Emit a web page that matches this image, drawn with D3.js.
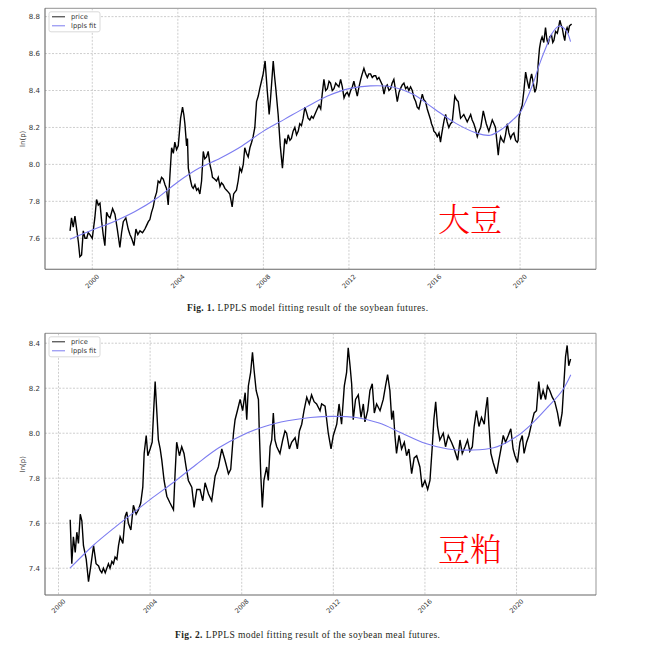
<!DOCTYPE html>
<html><head><meta charset="utf-8">
<script src="https://cdn.jsdelivr.net/npm/d3@7/dist/d3.min.js"></script>
<style>body{margin:0;background:#fff}svg{display:block}</style>
</head><body>
<svg id="c" width="652" height="652"></svg>
<script>
// ---------- DATA ----------
const xTicks = [2000, 2004, 2008, 2012, 2016, 2020];
const soyYTicks = [7.6, 7.8, 8.0, 8.2, 8.4, 8.6, 8.8];
const mealYTicks = [7.4, 7.6, 7.8, 8.0, 8.2, 8.4];
const legendLabels = ["price", "lppls fit"];
const captions = [["Fig. 1.", "LPPLS model fitting result of the soybean futures."],
                  ["Fig. 2.", "LPPLS model fitting result of the soybean meal futures."]];
const panelNames = ["大豆", "豆粕"];

// soybean (大豆) price, ln(p)
const soyT = [1998.96,1999.03,1999.11,1999.19,1999.27,1999.35,1999.42,1999.50,1999.58,1999.66,1999.74,1999.81,1999.89,2000.00,2000.12,2000.20,2000.28,2000.36,2000.44,2000.51,2000.59,2000.67,2000.75,2000.83,2000.95,2001.06,2001.17,2001.23,2001.29,2001.37,2001.45,2001.57,2001.68,2001.76,2001.84,2001.95,2002.04,2002.13,2002.23,2002.35,2002.46,2002.54,2002.62,2002.69,2002.77,2002.85,2002.93,2003.01,2003.08,2003.16,2003.24,2003.32,2003.40,2003.47,2003.55,2003.63,2003.71,2003.79,2003.86,2003.94,2004.02,2004.13,2004.22,2004.28,2004.33,2004.41,2004.45,2004.49,2004.60,2004.66,2004.72,2004.80,2004.88,2004.95,2005.03,2005.11,2005.19,2005.26,2005.34,2005.42,2005.50,2005.58,2005.62,2005.73,2005.81,2005.89,2005.97,2006.04,2006.12,2006.20,2006.28,2006.36,2006.43,2006.54,2006.61,2006.67,2006.74,2006.82,2006.90,2006.98,2007.06,2007.13,2007.21,2007.29,2007.37,2007.45,2007.52,2007.60,2007.68,2007.76,2007.83,2007.91,2007.99,2008.08,2008.13,2008.18,2008.27,2008.33,2008.38,2008.46,2008.52,2008.58,2008.69,2008.79,2008.83,2008.89,2008.96,2009.00,2009.08,2009.16,2009.24,2009.31,2009.39,2009.47,2009.55,2009.63,2009.70,2009.78,2009.86,2009.94,2010.02,2010.09,2010.17,2010.25,2010.33,2010.48,2010.60,2010.68,2010.75,2010.83,2010.91,2010.99,2011.07,2011.14,2011.22,2011.30,2011.38,2011.45,2011.53,2011.61,2011.69,2011.77,2011.84,2011.92,2012.00,2012.08,2012.16,2012.23,2012.31,2012.39,2012.47,2012.55,2012.62,2012.70,2012.78,2012.86,2012.93,2013.01,2013.09,2013.17,2013.25,2013.32,2013.40,2013.48,2013.56,2013.64,2013.71,2013.79,2013.87,2013.95,2014.02,2014.10,2014.18,2014.26,2014.34,2014.41,2014.49,2014.57,2014.65,2014.73,2014.80,2014.88,2014.96,2015.04,2015.12,2015.19,2015.27,2015.35,2015.43,2015.50,2015.58,2015.66,2015.74,2015.82,2015.86,2015.93,2015.97,2016.05,2016.13,2016.21,2016.28,2016.33,2016.39,2016.45,2016.52,2016.59,2016.67,2016.75,2016.83,2016.89,2016.95,2017.03,2017.11,2017.17,2017.22,2017.30,2017.37,2017.45,2017.53,2017.61,2017.69,2017.76,2017.84,2017.92,2018.00,2018.08,2018.16,2018.23,2018.28,2018.34,2018.42,2018.48,2018.54,2018.62,2018.70,2018.78,2018.85,2018.92,2018.98,2019.03,2019.09,2019.17,2019.24,2019.32,2019.40,2019.48,2019.56,2019.63,2019.71,2019.79,2019.87,2019.91,2019.95,2020.02,2020.10,2020.18,2020.26,2020.34,2020.42,2020.48,2020.54,2020.62,2020.69,2020.75,2020.80,2020.85,2020.91,2020.97,2021.03,2021.11,2021.19,2021.25,2021.31,2021.39,2021.47,2021.53,2021.58,2021.66,2021.74,2021.80,2021.86,2021.93,2021.97,2022.03,2022.09,2022.14,2022.20,2022.26,2022.31,2022.41];
const soyP = [7.64,7.71,7.66,7.72,7.65,7.58,7.50,7.51,7.64,7.60,7.60,7.63,7.62,7.60,7.71,7.81,7.78,7.79,7.69,7.62,7.56,7.74,7.72,7.71,7.76,7.73,7.65,7.60,7.55,7.63,7.69,7.71,7.65,7.62,7.60,7.56,7.65,7.62,7.64,7.63,7.65,7.67,7.69,7.70,7.74,7.77,7.82,7.85,7.91,7.90,7.93,7.92,7.89,7.87,7.78,7.94,8.09,8.06,8.12,8.08,8.10,8.25,8.31,8.27,8.22,8.10,8.14,7.98,7.91,7.88,7.87,7.89,7.86,7.87,7.84,7.91,8.07,8.03,8.04,8.07,8.00,7.96,7.93,7.92,7.91,7.93,7.88,7.90,7.89,7.87,7.86,7.85,7.84,7.77,7.84,7.85,7.86,7.91,7.98,7.96,8.00,8.09,8.06,8.04,8.09,8.12,8.15,8.20,8.34,8.37,8.41,8.45,8.49,8.56,8.48,8.40,8.27,8.35,8.43,8.56,8.48,8.41,8.27,8.10,8.05,7.98,8.08,8.14,8.11,8.16,8.13,8.14,8.18,8.20,8.16,8.18,8.22,8.21,8.25,8.31,8.28,8.25,8.24,8.26,8.25,8.29,8.32,8.30,8.38,8.46,8.40,8.41,8.45,8.44,8.40,8.41,8.44,8.43,8.42,8.46,8.42,8.36,8.38,8.39,8.37,8.40,8.42,8.45,8.41,8.37,8.42,8.46,8.49,8.52,8.49,8.47,8.49,8.49,8.47,8.48,8.48,8.46,8.47,8.45,8.43,8.38,8.42,8.43,8.40,8.41,8.44,8.46,8.40,8.34,8.39,8.41,8.43,8.44,8.41,8.42,8.40,8.42,8.40,8.36,8.34,8.31,8.30,8.34,8.38,8.35,8.34,8.30,8.27,8.24,8.22,8.20,8.18,8.17,8.15,8.17,8.12,8.16,8.20,8.24,8.27,8.23,8.20,8.22,8.23,8.30,8.37,8.35,8.34,8.29,8.25,8.26,8.27,8.25,8.23,8.25,8.27,8.24,8.22,8.19,8.15,8.18,8.20,8.25,8.29,8.26,8.22,8.20,8.18,8.21,8.24,8.22,8.20,8.12,8.05,8.11,8.15,8.13,8.12,8.16,8.22,8.17,8.14,8.16,8.17,8.13,8.12,8.13,8.25,8.29,8.32,8.40,8.50,8.45,8.41,8.46,8.49,8.44,8.39,8.41,8.45,8.55,8.63,8.67,8.69,8.66,8.74,8.68,8.65,8.69,8.70,8.66,8.67,8.72,8.71,8.74,8.78,8.75,8.74,8.70,8.67,8.72,8.74,8.72,8.75,8.76];
// soybean LPPLS fit
const soyFitT = [1998.96,2000.0,2001.0,2002.0,2003.0,2004.0,2005.0,2006.0,2007.0,2008.0,2009.0,2010.0,2011.0,2012.0,2013.0,2014.0,2015.0,2016.0,2017.0,2018.0,2018.6,2019.2,2019.7,2020.0,2020.3,2020.6,2020.9,2021.2,2021.5,2021.8,2022.0,2022.2,2022.36];
const soyFit  = [7.595,7.645,7.69,7.745,7.815,7.905,7.98,8.035,8.10,8.18,8.245,8.31,8.37,8.41,8.425,8.42,8.38,8.30,8.222,8.168,8.158,8.195,8.245,8.28,8.35,8.435,8.54,8.63,8.71,8.748,8.742,8.715,8.665];

// soybean meal (豆粕) price, ln(p)
const mealT = [2000.51,2000.55,2000.58,2000.65,2000.73,2000.80,2000.87,2000.95,2001.02,2001.09,2001.21,2001.31,2001.41,2001.53,2001.60,2001.64,2001.75,2001.82,2001.89,2001.96,2002.04,2002.11,2002.18,2002.25,2002.33,2002.40,2002.47,2002.55,2002.62,2002.69,2002.81,2002.91,2002.98,2003.05,2003.16,2003.27,2003.39,2003.49,2003.59,2003.68,2003.74,2003.83,2003.90,2004.00,2004.09,2004.15,2004.22,2004.29,2004.36,2004.44,2004.51,2004.61,2004.73,2004.87,2005.02,2005.09,2005.16,2005.28,2005.38,2005.48,2005.57,2005.67,2005.82,2005.92,2006.04,2006.18,2006.30,2006.40,2006.55,2006.69,2006.84,2006.98,2007.13,2007.27,2007.42,2007.52,2007.64,2007.71,2007.81,2007.93,2008.04,2008.15,2008.22,2008.29,2008.39,2008.47,2008.54,2008.63,2008.73,2008.77,2008.83,2008.90,2008.97,2009.09,2009.16,2009.24,2009.31,2009.38,2009.45,2009.53,2009.67,2009.79,2009.89,2009.96,2010.08,2010.18,2010.33,2010.43,2010.52,2010.62,2010.72,2010.84,2010.95,2011.05,2011.16,2011.27,2011.42,2011.49,2011.64,2011.71,2011.78,2011.90,2012.00,2012.15,2012.25,2012.36,2012.48,2012.58,2012.65,2012.73,2012.80,2012.87,2012.97,2013.09,2013.21,2013.31,2013.38,2013.50,2013.60,2013.70,2013.79,2013.89,2014.04,2014.18,2014.28,2014.37,2014.47,2014.55,2014.62,2014.69,2014.76,2014.87,2014.98,2015.10,2015.20,2015.30,2015.42,2015.53,2015.64,2015.78,2015.88,2016.00,2016.12,2016.22,2016.32,2016.39,2016.47,2016.55,2016.65,2016.80,2016.90,2017.02,2017.16,2017.28,2017.43,2017.53,2017.63,2017.75,2017.86,2017.96,2018.07,2018.15,2018.25,2018.36,2018.47,2018.59,2018.65,2018.73,2018.79,2018.88,2018.98,2019.13,2019.23,2019.32,2019.42,2019.52,2019.64,2019.75,2019.85,2019.93,2020.04,2020.15,2020.25,2020.33,2020.44,2020.54,2020.65,2020.77,2020.87,2020.97,2021.06,2021.16,2021.27,2021.35,2021.45,2021.56,2021.67,2021.79,2021.89,2021.99,2022.08,2022.14,2022.21,2022.28,2022.36];
const mealP = [7.615,7.50,7.42,7.54,7.47,7.56,7.51,7.64,7.61,7.50,7.44,7.34,7.41,7.50,7.45,7.42,7.41,7.39,7.38,7.40,7.38,7.40,7.42,7.40,7.43,7.42,7.45,7.44,7.50,7.54,7.51,7.63,7.65,7.60,7.57,7.68,7.64,7.66,7.69,7.76,7.91,7.99,7.90,7.93,7.96,8.09,8.23,8.10,7.97,7.93,7.88,7.79,7.72,7.69,7.66,7.82,7.96,7.90,7.94,7.91,7.85,7.79,7.76,7.67,7.75,7.75,7.70,7.78,7.73,7.70,7.81,7.85,7.93,7.88,7.82,7.84,8.00,8.06,8.10,8.15,8.10,8.18,8.06,8.21,8.27,8.36,8.28,8.19,8.15,8.00,7.82,7.67,7.79,7.85,7.79,7.94,7.97,8.09,7.97,7.94,7.91,7.97,8.01,8.00,7.93,7.96,7.98,7.93,8.01,8.04,8.10,8.16,8.13,8.17,8.14,8.13,8.10,8.13,8.12,8.06,8.00,7.93,7.99,8.04,8.13,8.04,8.21,8.27,8.38,8.30,8.22,8.06,8.15,8.17,8.07,8.13,8.05,8.10,8.19,8.22,8.09,8.13,8.10,8.15,8.21,8.26,8.19,8.06,8.10,7.99,7.91,7.99,7.93,7.96,7.90,7.93,7.82,7.89,7.90,7.85,7.76,7.79,7.75,7.79,7.94,8.06,8.14,8.03,7.97,8.00,7.94,7.99,7.96,7.93,7.88,7.97,7.91,7.94,7.97,7.92,7.94,8.03,8.10,8.03,8.07,8.04,8.10,8.16,8.04,7.91,7.87,7.82,7.88,7.93,7.99,7.96,7.99,8.02,7.93,7.90,7.87,7.96,7.99,7.91,7.96,7.99,8.04,8.09,8.10,8.23,8.15,8.19,8.15,8.21,8.19,8.16,8.14,8.09,8.03,8.09,8.24,8.34,8.39,8.30,8.33];
// soybean meal LPPLS fit
const mealFitT = [2000.5,2001.5,2002.5,2003.0,2004.0,2005.0,2006.0,2007.0,2008.0,2009.0,2010.0,2011.0,2012.0,2013.0,2014.0,2015.0,2016.0,2017.0,2018.0,2019.0,2020.0,2020.65,2021.4,2022.0,2022.37];
const mealFit  = [7.40,7.50,7.585,7.625,7.705,7.78,7.86,7.935,7.99,8.03,8.055,8.07,8.075,8.07,8.045,8.00,7.955,7.93,7.925,7.935,7.985,8.04,8.12,8.19,8.26];

// ---------- DRAW ----------
const svg = d3.select("#c");
const tickFont = "DejaVu Sans, sans-serif";

function panel(o) {
  const x = d3.scaleLinear().domain(o.xDomain).range([o.left, o.right]);
  const y = d3.scaleLinear().domain(o.yDomain).range([o.bottom, o.top]);
  const g = svg.append("g");
  g.append("rect").attr("x", o.left).attr("y", o.top)
    .attr("width", o.right - o.left).attr("height", o.bottom - o.top).attr("fill", "#fff");
  // grid
  g.selectAll(".gx").data(xTicks).join("line")
    .attr("x1", d => x(d)).attr("x2", d => x(d)).attr("y1", o.top).attr("y2", o.bottom)
    .attr("stroke", "#b8b8b8").attr("stroke-width", 0.7).attr("stroke-dasharray", "2,1.5");
  g.selectAll(".gy").data(o.yTicks).join("line")
    .attr("x1", o.left).attr("x2", o.right).attr("y1", d => y(d)).attr("y2", d => y(d))
    .attr("stroke", "#b8b8b8").attr("stroke-width", 0.7).attr("stroke-dasharray", "2,1.5");
  // lines
  const line = d3.line().x(d => x(d[0])).y(d => y(d[1]));
  g.append("path").datum(o.t.map((t, i) => [t, o.p[i]]))
    .attr("d", line).attr("fill", "none").attr("stroke", "#000").attr("stroke-width", 1.4)
    .attr("stroke-linejoin", "miter");
  g.append("path").datum(o.ft.map((t, i) => [t, o.fv[i]]))
    .attr("d", line.curve(d3.curveCatmullRom)).attr("fill", "none")
    .attr("stroke", "#7c7cf0").attr("stroke-width", 1.1);
  // spines
  g.append("line").attr("x1", o.left).attr("x2", o.right).attr("y1", o.top).attr("y2", o.top)
    .attr("stroke", "#a8a8a8").attr("stroke-width", 1.2);
  g.append("line").attr("x1", o.right).attr("x2", o.right).attr("y1", o.top).attr("y2", o.bottom)
    .attr("stroke", "#a8a8a8").attr("stroke-width", 1.2);
  g.append("line").attr("x1", o.left).attr("x2", o.left).attr("y1", o.top).attr("y2", o.bottom)
    .attr("stroke", "#666").attr("stroke-width", 1.1);
  g.append("line").attr("x1", o.left).attr("x2", o.right).attr("y1", o.bottom).attr("y2", o.bottom)
    .attr("stroke", "#666").attr("stroke-width", 1.1);
  // y tick labels
  g.selectAll(".yl").data(o.yTicks).join("text")
    .attr("x", o.left - 5).attr("y", d => y(d)).attr("dy", "0.35em")
    .attr("text-anchor", "end").attr("font-family", tickFont).attr("font-size", 7)
    .attr("fill", "#333").text(d => d3.format(".1f")(d));
  // x tick labels rotated
  g.selectAll(".xl").data(xTicks).join("text")
    .attr("transform", d => `translate(${x(d)},${o.bottom + o.xlOff}) rotate(-45)`)
    .attr("text-anchor", "middle").attr("dy", "0.35em")
    .attr("font-family", tickFont).attr("font-size", 6.5).attr("fill", "#333").text(d => d);
  // y label
  g.append("text").attr("transform", `translate(${o.left - 20},${(o.top + o.bottom) / 2}) rotate(-90)`)
    .attr("text-anchor", "middle").attr("font-family", tickFont).attr("font-size", 7)
    .attr("fill", "#333").text("ln(p)");
  // legend
  const lx = o.left + 4, ly = o.top + 3.5;
  g.append("rect").attr("x", lx).attr("y", ly).attr("width", 51).attr("height", 20)
    .attr("rx", 2).attr("fill", "#fff").attr("stroke", "#d0d0d0").attr("stroke-width", 0.8);
  const lc = ["#222", "#7c7cf0"];
  legendLabels.forEach((lab, i) => {
    const yy = ly + 5 + i * 9;
    g.append("line").attr("x1", lx + 3).attr("x2", lx + 16).attr("y1", yy).attr("y2", yy)
      .attr("stroke", lc[i]).attr("stroke-width", 1);
    g.append("text").attr("x", lx + 22).attr("y", yy).attr("dy", "0.35em")
      .attr("font-family", tickFont).attr("font-size", 6.8).attr("fill", "#333").text(lab);
  });
  // chinese name
  g.append("text").attr("x", o.nameX).attr("y", o.nameY)
    .attr("font-family", "Noto Serif CJK SC, Noto Sans CJK SC, sans-serif").attr("font-size", 32)
    .attr("font-weight", 300).attr("fill", "#ff0000").text(o.name);
  // caption
  const cap = g.append("text").attr("x", o.capX).attr("y", o.capY)
    .attr("font-family", "Liberation Serif, serif").attr("font-size", 9.5).attr("fill", "#231f20")
    .attr("textLength", o.capW).attr("lengthAdjust", "spacing");
  cap.append("tspan").attr("font-weight", "bold").text(o.cap[0] + "  ");
  cap.append("tspan").text(o.cap[1]);
}

panel({left: 45, right: 596, top: 8.3, bottom: 269.3,
  xDomain: [1997.79, 2023.55], yDomain: [7.432, 8.845], yTicks: soyYTicks,
  t: soyT, p: soyP, ft: soyFitT, fv: soyFit, xlOff: 12,
  name: panelNames[0], nameX: 438, nameY: 231,
  cap: captions[0], capX: 187, capY: 311, capW: 241});

panel({left: 45, right: 596, top: 333.3, bottom: 595,
  xDomain: [1999.41, 2023.47], yDomain: [7.281, 8.444], yTicks: mealYTicks,
  t: mealT, p: mealP, ft: mealFitT, fv: mealFit, xlOff: 11,
  name: panelNames[1], nameX: 438, nameY: 561,
  cap: captions[1], capX: 175, capY: 638, capW: 265});
</script>
</body></html>
